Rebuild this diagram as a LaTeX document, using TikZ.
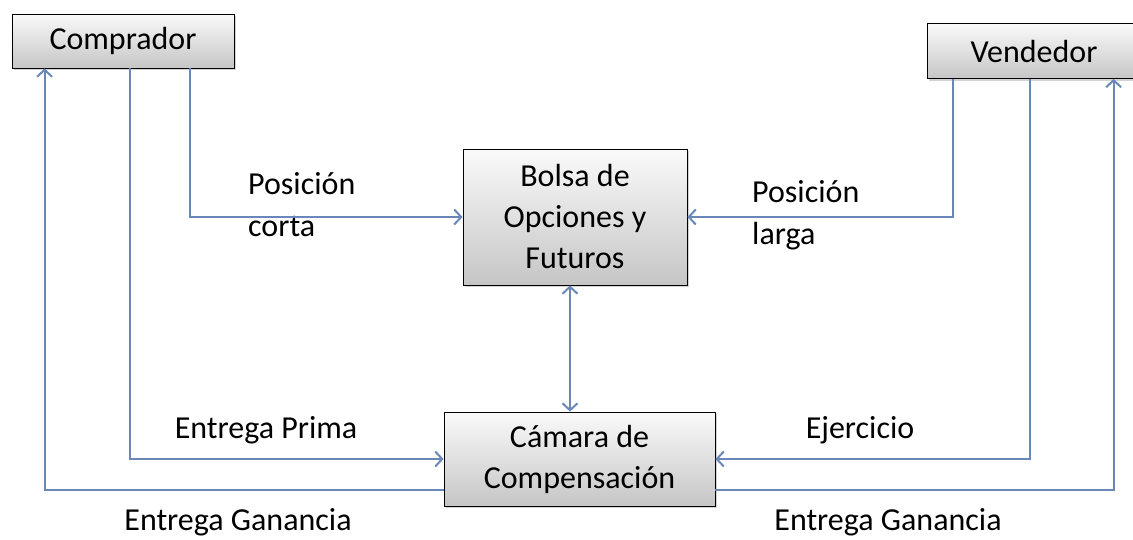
\documentclass[tikz,border=0pt]{standalone}
\usepackage{fontspec}
\setmainfont{Carlito}
\usetikzlibrary{arrows.meta,shadows}
\definecolor{flowblue}{RGB}{105,135,185}
\tikzset{
  box/.style={draw=black,thick,top color=gray!4,bottom color=gray!45,
    drop shadow={shadow xshift=2pt,shadow yshift=-2pt,opacity=.35},
    align=center,inner sep=0pt,font=\fontsize{32}{41}\selectfont},
  flow/.style={draw=flowblue,line width=2pt,-{Straight Barb[length=7pt,width=15pt]}},
  lbl/.style={font=\fontsize{32}{42}\selectfont,align=left,inner sep=0pt}
}
\begin{document}
\begin{tikzpicture}[x=1pt,y=-1pt]
  \useasboundingbox (0,0) rectangle (1133,539);
  \node[box,minimum width=222pt,minimum height=54pt] (comp) at (123,41) {Comprador};
  \node[box,minimum width=214pt,minimum height=55pt] (vend) at (1034,51) {Vendedor};
  \node[box,minimum width=224pt,minimum height=136pt] (bolsa) at (575,217) {Bolsa de\\Opciones y\\Futuros};
  \node[box,minimum width=271pt,minimum height=94pt] (cam) at (579.5,459) {Cámara de\\Compensación};
  % labels
  \node[lbl,anchor=north west] (pcorta) at (248,172) {Posición\\corta};
  \node[lbl,anchor=north west] (plarga) at (752,180) {Posición\\larga};
  \node[lbl] (prima) at (266,430) {Entrega Prima};
  \node[lbl] (ejer) at (860,430) {Ejercicio};
  \node[lbl] (gan1) at (238,522) {Entrega Ganancia};
  \node[lbl] (gan2) at (888,522) {Entrega Ganancia};
  % connectors
  \draw[flow] ([xshift=178pt]comp.south west) |- (bolsa.west);
  \draw[flow] ([xshift=26pt]vend.south west) |- (bolsa.east);
  \draw[flow,{Straight Barb[length=7pt,width=15pt]}-{Straight Barb[length=7pt,width=15pt]}]
    ([xshift=-5pt]bolsa.south) -- ([xshift=-5pt]bolsa.south |- cam.north);
  \draw[flow] ([xshift=118pt]comp.south west) |- (cam.west);
  \draw[flow] ([xshift=103pt]vend.south west) |- (cam.east);
  \draw[flow] ([yshift=-31pt]cam.west) -| ([xshift=33pt]comp.south west);
  \draw[flow] ([yshift=-31pt]cam.east) -| ([xshift=187pt]vend.south west);
\end{tikzpicture}
\end{document}
